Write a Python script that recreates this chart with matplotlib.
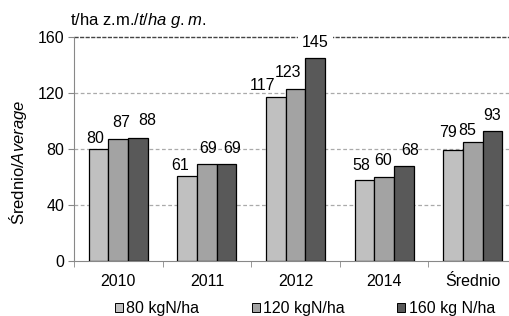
import numpy as np
import matplotlib
matplotlib.use("Agg")
import matplotlib.pyplot as plt
from matplotlib.patches import Patch

plt.rcParams['font.family'] = ['Liberation Sans', 'DejaVu Sans']
plt.rcParams['mathtext.fontset'] = 'custom'
plt.rcParams['mathtext.rm'] = 'Liberation Sans'
plt.rcParams['mathtext.it'] = 'Liberation Sans:italic'

categories = ["2010", "2011", "2012", "2014", "Średnio"]
series_names = ["80 kgN/ha", "120 kgN/ha", "160 kg N/ha"]
n80 = [80, 61, 117, 58, 79]
n120 = [87, 69, 123, 60, 85]
n160 = [88, 69, 145, 68, 93]
yticks = [0, 40, 80, 120, 160]

colors = ["#c0c0c0", "#a3a3a3", "#595959"]

# label nudges (px), Excel-like placement to avoid overlaps
label_dx = [[-3, -7, -13, -3, -5],
            [3, 1, -7, -1, -6],
            [9, 6, 0, 6, 0]]
label_gap = [[6, 6, 7, 10, 13],
             [12, 11, 12, 12, 7],
             [13, 11, 11, 11, 11]]

fig = plt.figure(figsize=(5.1, 3.16), dpi=100)
ax = fig.add_axes([74 / 510, 1 - 261 / 316, 443 / 510, 224 / 316])

x = np.arange(len(categories))
w = 0.222
series = [n80, n120, n160]
for i, (vals, c, name) in enumerate(zip(series, colors, series_names)):
    pos = x + (i - 1) * w
    ax.bar(pos, vals, width=w, color=c, edgecolor="black", linewidth=0.9,
           label=name, zorder=3)
    for j, (p, v) in enumerate(zip(pos, vals)):
        bg = dict(facecolor="white", edgecolor="none", pad=3) if v >= 140 else None
        ax.annotate(str(v), (p, v), xytext=(label_dx[i][j] * 0.72, label_gap[i][j] * 0.72),
                    textcoords="offset points", ha="center", va="baseline",
                    fontsize=11.5, color="black", zorder=4, bbox=bg,
                    annotation_clip=False)

ax.set_xlim(-0.5, len(categories) - 0.5)
ax.set_ylim(0, 160)
ax.set_yticks(yticks)
ax.set_xticks(x)
ax.set_xticklabels(categories, fontsize=11.5)
ax.set_xticks(np.arange(len(categories) + 1) - 0.5, minor=True)
ax.tick_params(axis="x", which="major", length=0, pad=9)
ax.tick_params(axis="x", which="minor", length=4, color="#888888")
ax.tick_params(axis="y", length=4, color="#888888", labelsize=11.5, pad=3)

for yv in yticks[1:-1]:
    ax.axhline(yv, color="#aaaaaa", linestyle=(0, (3, 2)), linewidth=0.9, zorder=1)
ax.axhline(160, color="#444444", linestyle=(0, (3, 1)), linewidth=1.0, zorder=1, clip_on=False)

for s in ["top", "right"]:
    ax.spines[s].set_visible(False)
ax.spines["left"].set_color("#888888")
ax.spines["bottom"].set_color("#888888")

fig.text(18 / 510, 1 - 162 / 316, "Średnio/$\\it{Average}$", fontsize=12,
         rotation=90, ha="center", va="center")
fig.text(70 / 510, 1 - 20 / 316, "t/ha z.m./$\\it{t/ha\\ g.m.}$", fontsize=12,
         ha="left", va="center")

handles = [Patch(facecolor=c, edgecolor="black", linewidth=0.7) for c in colors]
fig.legend(handles, series_names, loc="center", bbox_to_anchor=(305 / 510, 1 - 309 / 316),
           ncol=3, frameon=False, fontsize=11.5, handlelength=0.5, handleheight=0.5,
           handletextpad=0.2, columnspacing=3.3, borderpad=0)

fig.savefig("out.png", dpi=100)
